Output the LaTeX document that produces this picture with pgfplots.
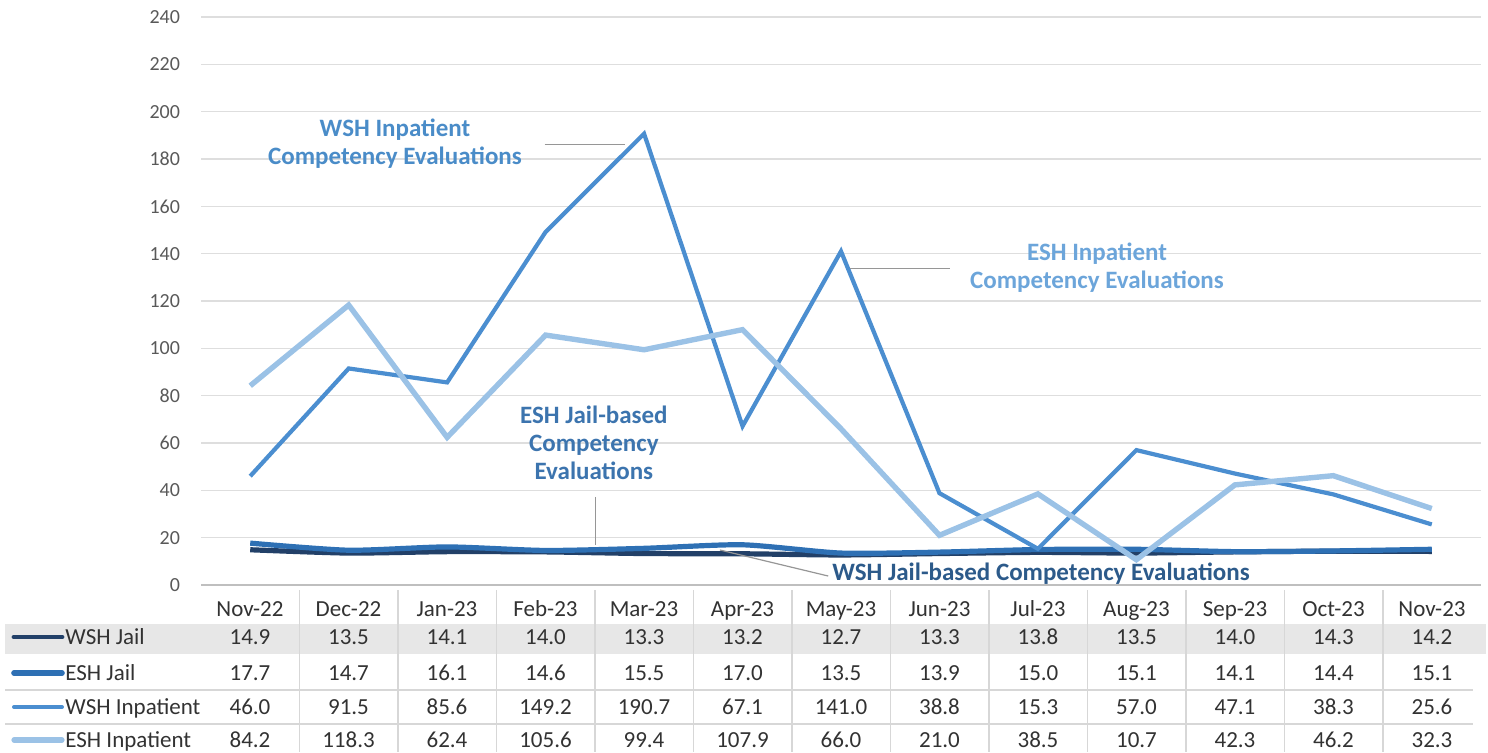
\documentclass[border=0pt]{standalone}
\usepackage{fontspec}
\setmainfont{Carlito}
\usepackage{pgfplots}
\usepackage{pgfplotstable}
\pgfplotsset{compat=1.18}
\definecolor{wjc}{RGB}{34,64,104}
\definecolor{ejc}{RGB}{46,112,180}
\definecolor{wic}{RGB}{75,142,208}
\definecolor{eic}{RGB}{155,194,230}
\definecolor{gridc}{RGB}{222,222,222}
\definecolor{axisc}{RGB}{191,191,191}
\definecolor{tickc}{RGB}{89,89,89}
\definecolor{txtc}{RGB}{50,50,50}
\definecolor{bandc}{RGB}{231,231,231}
\definecolor{sepc}{RGB}{215,215,215}
\definecolor{leadc}{RGB}{150,150,150}
\definecolor{awi}{RGB}{74,140,200}
\definecolor{aei}{RGB}{108,165,218}
\definecolor{aej}{RGB}{60,116,174}
\definecolor{awj}{RGB}{44,90,138}

\pgfplotstableread{
x month wj ej wi ei
0 Nov-22 14.9 17.7 46.0 84.2
1 Dec-22 13.5 14.7 91.5 118.3
2 Jan-23 14.1 16.1 85.6 62.4
3 Feb-23 14.0 14.6 149.2 105.6
4 Mar-23 13.3 15.5 190.7 99.4
5 Apr-23 13.2 17.0 67.1 107.9
6 May-23 12.7 13.5 141.0 66.0
7 Jun-23 13.3 13.9 38.8 21.0
8 Jul-23 13.8 15.0 15.3 38.5
9 Aug-23 13.5 15.1 57.0 10.7
10 Sep-23 14.0 14.1 47.1 42.3
11 Oct-23 14.3 14.4 38.3 46.2
12 Nov-23 14.2 15.1 25.6 32.3
}\data

\newcommand{\tabfont}{\fontsize{11.5}{13}\selectfont}
\newcommand{\annfont}{\bfseries\fontsize{12.5}{14}\selectfont}

\begin{document}
\begin{tikzpicture}
\useasboundingbox (0,0) rectangle (744pt,-376pt);
% table background (pixel coordinates, y downward)
\begin{scope}[x=0.5pt,y=-0.5pt]
\fill[bandc] (5,624) rectangle (1486,654);
\foreach \yy in {690,724} \draw[sepc, line width=0.6pt] (5,\yy) -- (1473,\yy);
\foreach \k in {1,...,12} \draw[sepc, line width=0.6pt] ({201+98.5*\k},590) -- ({201+98.5*\k},752);
\end{scope}

\begin{axis}[
  at={(100.5pt,-292.5pt)}, anchor=south west,
  scale only axis, width=640pt, height=284pt,
  xmin=-0.5, xmax=12.5, ymin=0, ymax=240,
  ytick={0,20,...,240}, xtick=\empty,
  axis x line*=bottom, axis y line*=left,
  x axis line style={draw=axisc, line width=1pt, -},
  y axis line style={draw=none},
  major tick length=0pt,
  ymajorgrids, grid style={draw=gridc, line width=0.8pt},
  /pgf/number format/assume math mode=true,
  yticklabel style={text=tickc, font=\fontsize{10}{12}\selectfont, xshift=-7pt},
  clip=false,
]
\addplot[wjc, line width=2.6pt, smooth, tension=0.4] table[x=x,y=wj]{\data};
\addplot[ejc, line width=2.6pt, smooth, tension=0.4] table[x=x,y=ej]{\data};
\addplot[wic, line width=2.1pt] table[x=x,y=wi]{\data};
\addplot[eic, line width=2.7pt] table[x=x,y=ei]{\data};

% annotations
\node[font=\annfont, text=awi, align=center] at (axis cs:1.47,186.5) {WSH Inpatient\\Competency Evaluations};
\draw[leadc, line width=0.6pt] (axis cs:2.99,186.3) -- (axis cs:3.81,186.3);
\node[font=\annfont, text=aei, align=center] at (axis cs:8.60,133.9) {ESH Inpatient\\Competency Evaluations};
\draw[leadc, line width=0.6pt] (axis cs:6.09,133.9) -- (axis cs:7.11,133.9);
\node[font=\annfont, text=aej, align=center] at (axis cs:3.49,60) {ESH Jail-based\\Competency\\Evaluations};
\draw[leadc, line width=0.6pt] (axis cs:3.51,37.2) -- (axis cs:3.51,16.9);
\node[font=\annfont, text=awj, anchor=west] at (axis cs:5.84,5.0) {WSH Jail-based Competency Evaluations};
\draw[leadc, line width=0.6pt] (axis cs:4.77,14.8) -- (axis cs:5.87,3.8);
\end{axis}

% data table text
\begin{scope}[x=0.5pt,y=-0.5pt]
\foreach \i in {0,...,12} {
  \pgfplotstablegetelem{\i}{month}\of\data
  \node[font=\tabfont, text=txtc, anchor=base] at ({250+98.5*\i},616) {\pgfplotsretval};
  \pgfplotstablegetelem{\i}{wj}\of\data
  \node[font=\tabfont, text=txtc, anchor=base] at ({250+98.5*\i},644) {\pgfplotsretval};
  \pgfplotstablegetelem{\i}{ej}\of\data
  \node[font=\tabfont, text=txtc, anchor=base] at ({250+98.5*\i},680) {\pgfplotsretval};
  \pgfplotstablegetelem{\i}{wi}\of\data
  \node[font=\tabfont, text=txtc, anchor=base] at ({250+98.5*\i},714) {\pgfplotsretval};
  \pgfplotstablegetelem{\i}{ei}\of\data
  \node[font=\tabfont, text=txtc, anchor=base] at ({250+98.5*\i},747) {\pgfplotsretval};
}
\draw[wjc, line width=2.4pt, line cap=round] (14,637) -- (62,637);
\draw[ejc, line width=2.8pt, line cap=round] (14,673) -- (62,673);
\draw[wic, line width=2pt, line cap=round] (14,707) -- (62,707);
\draw[eic, line width=2.6pt, line cap=round] (14,740) -- (62,740);
\node[font=\tabfont, text=txtc, anchor=base west, inner sep=0pt] at (65,644) {WSH Jail};
\node[font=\tabfont, text=txtc, anchor=base west, inner sep=0pt] at (65,680) {ESH Jail};
\node[font=\tabfont, text=txtc, anchor=base west, inner sep=0pt] at (65,714) {WSH Inpatient};
\node[font=\tabfont, text=txtc, anchor=base west, inner sep=0pt] at (65,747) {ESH Inpatient};
\end{scope}
\end{tikzpicture}
\end{document}
